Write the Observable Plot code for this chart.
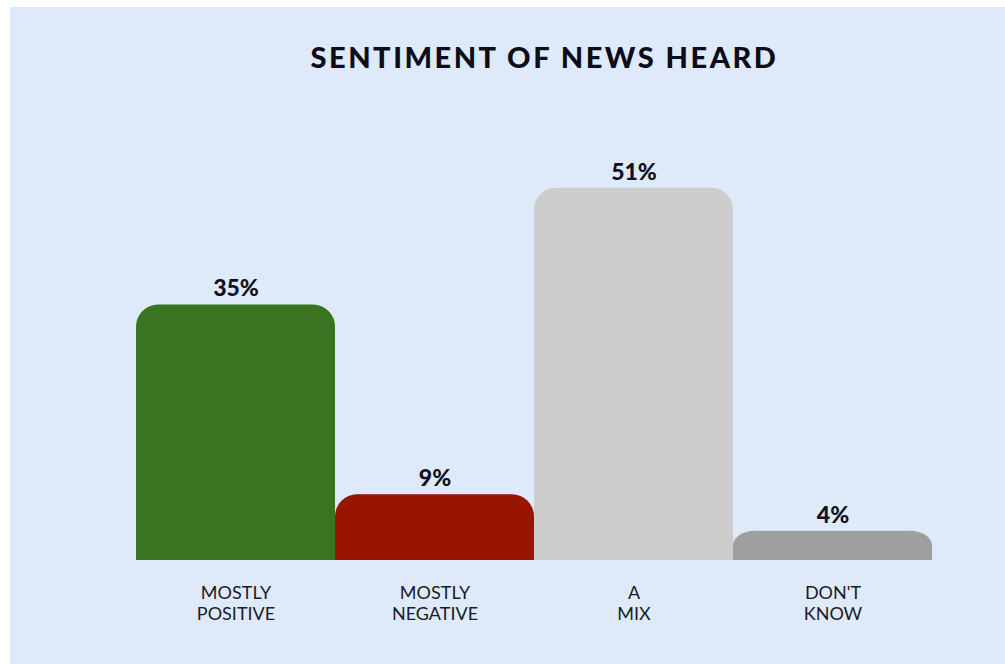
<!DOCTYPE html>
<html>
<head>
<meta charset="utf-8">
<script src="https://cdn.jsdelivr.net/npm/d3@7"></script>
<script src="https://cdn.jsdelivr.net/npm/@observablehq/plot@0.6"></script>
<style>
  html, body { margin: 0; padding: 0; background: #ffffff; }
  #panel {
    position: absolute; left: 10px; top: 7px; width: 995px; height: 657px;
    background: #deeaf9; overflow: hidden;
  }
  #title {
    height: 93px; margin: 0; text-align: center;
    font-family: Lato, "DejaVu Sans", sans-serif; font-weight: 900;
    font-size: 29px; letter-spacing: 2.5px; color: #0d0d1a;
    line-height: 100px; padding-left: 74px; box-sizing: border-box;
  }
  #chart svg { display: block; }
</style>
</head>
<body>
<div id="panel">
  <div id="title">SENTIMENT OF NEWS HEARD</div>
  <div id="chart"></div>
</div>
<script>
const categories = ["MOSTLY POSITIVE", "MOSTLY NEGATIVE", "A MIX", "DON'T KNOW"];
const tickLabels = ["MOSTLY\nPOSITIVE", "MOSTLY\nNEGATIVE", "A\nMIX", "DON'T\nKNOW"];
const values = [35, 9, 51, 4];
const colors = ["#3b7420", "#9a1500", "#cccccc", "#9f9f9f"];

const data = categories.map((c, i) => ({category: c, value: values[i], color: colors[i]}));
const labelOf = new Map(categories.map((c, i) => [c, tickLabels[i]]));

const chart = Plot.plot({
  width: 995,
  height: 564,
  marginLeft: 126,
  marginRight: 73,
  marginTop: 22,
  marginBottom: 104,
  style: {background: "transparent", fontFamily: "Lato, 'DejaVu Sans', sans-serif"},
  x: {domain: categories, padding: 0, axis: null},
  y: {domain: [0, 60], axis: null},
  marks: [
    Plot.barY(data, {x: "category", y: "value", fill: "color", rx: 22, inset: 0}),
    Plot.barY(data, {x: "category", y1: 0, y2: d => d.value / 2, fill: "color", inset: 0}),
    Plot.text(data, {x: "category", y: "value", text: d => d.value + "%", dy: -16,
      fontSize: 23, fontWeight: 900, fill: "#111122"}),
    Plot.axisX({tickSize: 0, tickPadding: 24, fontSize: 18, lineHeight: 1.15, label: null,
      tickFormat: d => labelOf.get(d), fill: "#1a1a2a"})
  ]
});
document.getElementById("chart").appendChild(chart);
</script>
</body>
</html>
